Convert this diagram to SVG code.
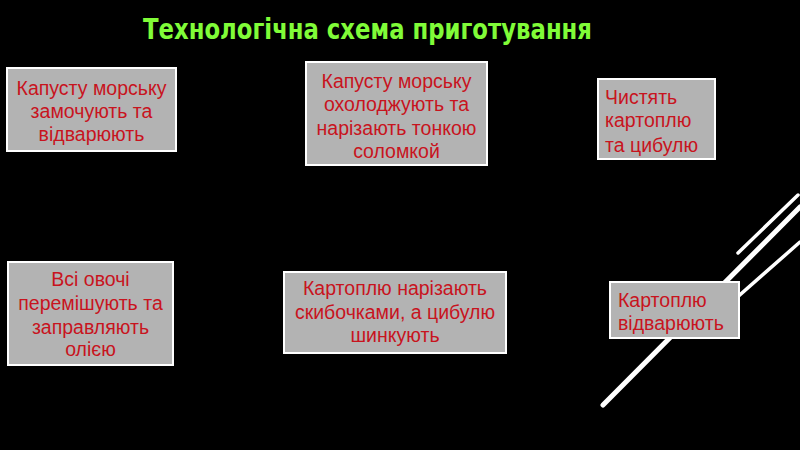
<svg xmlns="http://www.w3.org/2000/svg" width="800" height="450" viewBox="0 0 800 450">
<defs>
<style>
.box{fill:#b3b3b3;stroke:#ffffff;stroke-width:2}
.t{font-family:"Liberation Sans",Arial,sans-serif;font-size:19.5px;fill:#c8141e}
.c{text-anchor:middle}
.conn{stroke:#000000;stroke-width:1.5;fill:none}
.diag{stroke:#ffffff;stroke-linecap:round;fill:none}
</style>
</defs>
<rect x="0" y="0" width="800" height="450" fill="#000000"/>
<text x="143" y="39" font-family="'DejaVu Sans',sans-serif" font-weight="bold" font-size="28" fill="#80fc38" textLength="449" lengthAdjust="spacingAndGlyphs">Технологічна схема приготування</text>
<g id="decor">
<line class="diag" x1="798" y1="195" x2="738" y2="253" stroke-width="3.5"/>
<line class="diag" x1="800" y1="207" x2="603" y2="405" stroke-width="5"/>
<line class="diag" x1="800" y1="242" x2="700" y2="330" stroke-width="3.5"/>
</g>
<g id="connectors">
<line class="conn" x1="177" y1="113" x2="306" y2="113"/>
<line class="conn" x1="487" y1="117" x2="598" y2="117"/>
<line class="conn" x1="667" y1="159" x2="667" y2="282"/>
<line class="conn" x1="610" y1="311" x2="507" y2="311"/>
<line class="conn" x1="284" y1="313" x2="173" y2="313"/>
</g>
<g id="n1">
<rect class="box" x="7" y="68" width="169" height="83"/>
<text class="t c" x="91.5" y="95">Капусту морську</text>
<text class="t c" x="91.5" y="118">замочують та</text>
<text class="t c" x="91.5" y="141">відварюють</text>
</g>
<g id="n2">
<rect class="box" x="306" y="62" width="181" height="103"/>
<text class="t c" x="396.5" y="88">Капусту морську</text>
<text class="t c" x="396.5" y="111">охолоджують та</text>
<text class="t c" x="396.5" y="135">нарізають тонкою</text>
<text class="t c" x="396.5" y="158">соломкой</text>
</g>
<g id="n3">
<rect class="box" x="598" y="79" width="117" height="80"/>
<text class="t" x="605" y="104">Чистять</text>
<text class="t" x="605" y="127">картоплю</text>
<text class="t" x="605" y="152">та цибулю</text>
</g>
<g id="n4">
<rect class="box" x="610" y="282" width="129" height="56"/>
<text class="t" x="618" y="307">Картоплю</text>
<text class="t" x="618" y="330">відварюють</text>
</g>
<g id="n5">
<rect class="box" x="284" y="272" width="222" height="81"/>
<text class="t c" x="395" y="295">Картоплю нарізають</text>
<text class="t c" x="395" y="319">скибочками, а цибулю</text>
<text class="t c" x="395" y="342">шинкують</text>
</g>
<g id="n6">
<rect class="box" x="8" y="262" width="165" height="103"/>
<text class="t c" x="90.5" y="286">Всі овочі</text>
<text class="t c" x="90.5" y="310">перемішують та</text>
<text class="t c" x="90.5" y="334">заправляють</text>
<text class="t c" x="90.5" y="356">олією</text>
</g>
</svg>
